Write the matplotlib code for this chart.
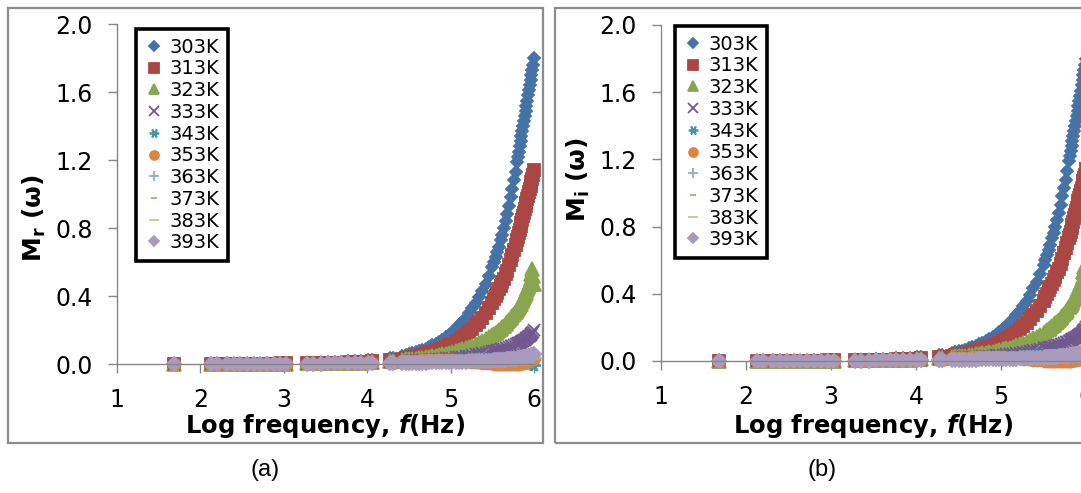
import matplotlib
matplotlib.use('Agg')
import matplotlib.pyplot as plt
from matplotlib.patches import Rectangle

plt.rcParams['font.family'] = 'DejaVu Sans'
plt.rcParams['mathtext.fontset'] = 'dejavusans'

# log frequency of every measured point (shared by all temperatures)
log_f = [1.68,
         2.13, 2.20,
         2.32, 2.40, 2.48, 2.56, 2.64, 2.72, 2.80, 2.88, 2.96, 3.03,
         3.28, 3.35,
         3.45, 3.53, 3.61, 3.69, 3.77, 3.85, 3.93, 4.01, 4.06,
         4.27, 4.31,
         4.42, 4.46, 4.50, 4.54, 4.58, 4.62, 4.66, 4.70, 4.74, 4.78,
         4.82, 4.86, 4.90, 4.94, 4.98, 5.02, 5.06, 5.10, 5.14, 5.18,
         5.22, 5.26, 5.30, 5.34, 5.38, 5.42, 5.46,
         5.50, 5.52, 5.54, 5.56, 5.58, 5.60, 5.62, 5.64, 5.66, 5.68,
         5.70, 5.72, 5.74, 5.76, 5.78,
         5.80, 5.81, 5.82, 5.83, 5.84, 5.85, 5.86, 5.87, 5.88, 5.89,
         5.90, 5.91, 5.92, 5.93, 5.94, 5.95, 5.96, 5.97, 5.98, 5.99, 6.00]

temps = ['303K', '313K', '323K', '333K', '343K', '353K', '363K', '373K', '383K', '393K']

m_303 = [0.000, 0.001, 0.001, 0.001, 0.001, 0.002, 0.002, 0.002, 0.002, 0.003, 0.003, 0.003, 0.004,
         0.006, 0.007, 0.008, 0.010, 0.011, 0.013, 0.015, 0.017, 0.019, 0.022, 0.024, 0.034, 0.037,
         0.047, 0.052, 0.057, 0.062, 0.068, 0.075, 0.082, 0.090, 0.099, 0.109,
         0.119, 0.130, 0.143, 0.157, 0.172, 0.188, 0.207, 0.227, 0.248, 0.272,
         0.299, 0.328, 0.359, 0.394, 0.432, 0.473, 0.519,
         0.57, 0.60, 0.63, 0.66, 0.69, 0.73, 0.76, 0.80, 0.84, 0.88,
         0.93, 0.98, 1.03, 1.08, 1.13,
         1.19, 1.22, 1.25, 1.28, 1.31, 1.34, 1.37, 1.40, 1.43, 1.46,
         1.49, 1.52, 1.55, 1.58, 1.61, 1.64, 1.67, 1.70, 1.73, 1.76, 1.80]
m_313 = [0.000, 0.000, 0.001, 0.001, 0.001, 0.001, 0.001, 0.002, 0.002, 0.002, 0.002, 0.003, 0.003,
         0.004, 0.005, 0.005, 0.006, 0.007, 0.008, 0.009, 0.011, 0.012, 0.014, 0.015, 0.021, 0.023,
         0.030, 0.033, 0.036, 0.040, 0.043, 0.048, 0.052, 0.057, 0.063, 0.069,
         0.075, 0.083, 0.091, 0.099, 0.109, 0.119, 0.131, 0.144, 0.157, 0.173,
         0.189, 0.207, 0.227, 0.249, 0.273, 0.300, 0.329,
         0.36, 0.38, 0.40, 0.42, 0.44, 0.46, 0.48, 0.50, 0.53, 0.55,
         0.58, 0.61, 0.64, 0.67, 0.70,
         0.73, 0.75, 0.77, 0.79, 0.81, 0.83, 0.85, 0.87, 0.89, 0.91,
         0.93, 0.95, 0.97, 0.99, 1.01, 1.03, 1.05, 1.07, 1.09, 1.11, 1.14]
m_323 = [0.000, 0.000, 0.000, 0.000, 0.001, 0.001, 0.001, 0.001, 0.001, 0.002, 0.002, 0.002, 0.002,
         0.003, 0.003, 0.004, 0.004, 0.005, 0.005, 0.006, 0.007, 0.008, 0.009, 0.010, 0.016, 0.018,
         0.025, 0.027, 0.029, 0.030, 0.032, 0.035, 0.037, 0.040, 0.043, 0.046,
         0.049, 0.052, 0.056, 0.060, 0.065, 0.070, 0.075, 0.080, 0.086, 0.093,
         0.100, 0.107, 0.115, 0.124, 0.134, 0.145, 0.157,
         0.168, 0.175, 0.182, 0.190, 0.198, 0.206, 0.215, 0.225, 0.235, 0.246,
         0.257, 0.268, 0.280, 0.293, 0.306,
         0.320, 0.328, 0.336, 0.345, 0.354, 0.363, 0.373, 0.383, 0.394, 0.405,
         0.416, 0.428, 0.440, 0.453, 0.466, 0.480, 0.500, 0.530, 0.560, 0.520, 0.470]
m_333 = [0.000, 0.000, 0.000, 0.000, 0.000, 0.001, 0.001, 0.001, 0.001, 0.001, 0.001, 0.001, 0.002,
         0.002, 0.002, 0.003, 0.003, 0.004, 0.004, 0.005, 0.005, 0.006, 0.007, 0.008, 0.012, 0.013,
         0.018, 0.019, 0.020, 0.021, 0.022, 0.023, 0.024, 0.025, 0.026, 0.027,
         0.029, 0.030, 0.032, 0.034, 0.035, 0.037, 0.039, 0.042, 0.044, 0.047,
         0.050, 0.053, 0.056, 0.059, 0.063, 0.067, 0.071,
         0.075, 0.077, 0.079, 0.081, 0.083, 0.086, 0.088, 0.091, 0.094, 0.097,
         0.100, 0.103, 0.107, 0.111, 0.115,
         0.119, 0.121, 0.124, 0.126, 0.129, 0.132, 0.135, 0.138, 0.141, 0.144,
         0.147, 0.151, 0.155, 0.159, 0.163, 0.167, 0.172, 0.177, 0.183, 0.190, 0.200]
m_343 = [0.000, 0.000, 0.000, 0.000, 0.000, 0.000, 0.000, 0.000, 0.001, 0.001, 0.001, 0.001, 0.001,
         0.001, 0.002, 0.002, 0.003, 0.003, 0.004, 0.004, 0.005, 0.005, 0.006, 0.006, 0.009, 0.010,
         0.014, 0.015, 0.016, 0.017, 0.017, 0.018, 0.019, 0.020, 0.021, 0.022,
         0.022, 0.023, 0.024, 0.025, 0.026, 0.027, 0.028, 0.029, 0.030, 0.031,
         0.031, 0.032, 0.033, 0.034, 0.034, 0.035, 0.036,
         0.036, 0.037, 0.037, 0.038, 0.038, 0.039, 0.039, 0.040, 0.040, 0.041,
         0.041, 0.042, 0.042, 0.042, 0.043,
         0.043, 0.042, 0.041, 0.040, 0.038, 0.036, 0.034, 0.032, 0.030, 0.027,
         0.024, 0.021, 0.018, 0.015, 0.012, 0.009, 0.006, 0.003, 0.000, -0.003, -0.006]
m_353 = [0.000, 0.000, 0.000, 0.000, 0.000, 0.000, 0.001, 0.001, 0.001, 0.001, 0.001, 0.001, 0.002,
         0.002, 0.002, 0.002, 0.003, 0.003, 0.003, 0.003, 0.004, 0.004, 0.004, 0.004, 0.006, 0.007,
         0.018, 0.019, 0.019, 0.020, 0.020, 0.020, 0.021, 0.021, 0.021, 0.022,
         0.022, 0.022, 0.022, 0.022, 0.021, 0.021, 0.020, 0.019, 0.018, 0.017,
         0.015, 0.013, 0.011, 0.009, 0.007, 0.005, 0.004,
         0.003, 0.002, 0.002, 0.001, 0.001, 0.000, 0.000, 0.000, 0.000, 0.000,
         0.000, 0.000, 0.000, 0.000, 0.000,
         0.001, 0.001, 0.002, 0.003, 0.004, 0.005, 0.006, 0.007, 0.008, 0.010,
         0.011, 0.013, 0.015, 0.017, 0.019, 0.021, 0.024, 0.026, 0.029, 0.032, 0.035]
m_363 = [0.000, 0.000, 0.000, 0.000, 0.000, 0.000, 0.001, 0.001, 0.001, 0.001, 0.001, 0.001, 0.002,
         0.002, 0.002, 0.002, 0.003, 0.003, 0.003, 0.003, 0.004, 0.004, 0.004, 0.004, 0.006, 0.007,
         0.010, 0.010, 0.011, 0.011, 0.011, 0.012, 0.012, 0.012, 0.013, 0.013,
         0.013, 0.014, 0.014, 0.014, 0.015, 0.015, 0.015, 0.016, 0.016, 0.016,
         0.017, 0.017, 0.017, 0.018, 0.018, 0.018, 0.019,
         0.019, 0.019, 0.020, 0.020, 0.020, 0.020, 0.021, 0.021, 0.021, 0.021,
         0.022, 0.022, 0.022, 0.022, 0.023,
         0.023, 0.023, 0.023, 0.024, 0.024, 0.024, 0.024, 0.025, 0.025, 0.025,
         0.025, 0.026, 0.026, 0.026, 0.026, 0.027, 0.027, 0.027, 0.027, 0.028, 0.028]
m_373 = [0.000, 0.000, 0.000, 0.000, 0.000, 0.000, 0.001, 0.001, 0.001, 0.001, 0.001, 0.001, 0.002,
         0.002, 0.002, 0.002, 0.003, 0.003, 0.003, 0.003, 0.004, 0.004, 0.004, 0.004, 0.005, 0.006,
         0.008, 0.008, 0.008, 0.009, 0.009, 0.009, 0.010, 0.010, 0.010, 0.011,
         0.011, 0.011, 0.012, 0.012, 0.012, 0.013, 0.013, 0.013, 0.014, 0.014,
         0.014, 0.015, 0.015, 0.015, 0.016, 0.016, 0.016,
         0.017, 0.017, 0.017, 0.018, 0.018, 0.018, 0.019, 0.019, 0.019, 0.020,
         0.020, 0.020, 0.021, 0.021, 0.021,
         0.022, 0.022, 0.022, 0.023, 0.023, 0.023, 0.024, 0.024, 0.024, 0.025,
         0.025, 0.026, 0.026, 0.026, 0.027, 0.027, 0.028, 0.028, 0.029, 0.029, 0.030]
m_383 = [0.000, 0.000, 0.000, 0.000, 0.000, 0.000, 0.001, 0.001, 0.001, 0.001, 0.001, 0.001, 0.002,
         0.002, 0.002, 0.002, 0.003, 0.003, 0.003, 0.003, 0.004, 0.004, 0.004, 0.004, 0.005, 0.006,
         0.006, 0.006, 0.007, 0.007, 0.007, 0.008, 0.008, 0.008, 0.009, 0.009,
         0.009, 0.010, 0.010, 0.010, 0.011, 0.011, 0.012, 0.012, 0.012, 0.013,
         0.013, 0.014, 0.014, 0.015, 0.015, 0.016, 0.016,
         0.017, 0.017, 0.018, 0.018, 0.019, 0.019, 0.020, 0.020, 0.021, 0.022,
         0.022, 0.023, 0.024, 0.025, 0.026,
         0.027, 0.027, 0.028, 0.029, 0.029, 0.030, 0.031, 0.031, 0.032, 0.033,
         0.034, 0.034, 0.035, 0.036, 0.037, 0.038, 0.039, 0.040, 0.041, 0.042, 0.043]
m_393 = [0.000, 0.000, 0.000, 0.000, 0.000, 0.000, 0.001, 0.001, 0.001, 0.001, 0.001, 0.001, 0.002,
         0.002, 0.002, 0.002, 0.003, 0.003, 0.003, 0.003, 0.004, 0.004, 0.004, 0.004, 0.005, 0.006,
         0.006, 0.006, 0.007, 0.007, 0.007, 0.008, 0.008, 0.008, 0.009, 0.009,
         0.010, 0.010, 0.011, 0.011, 0.012, 0.012, 0.013, 0.013, 0.014, 0.014,
         0.015, 0.015, 0.016, 0.017, 0.017, 0.018, 0.019,
         0.020, 0.021, 0.021, 0.022, 0.023, 0.024, 0.024, 0.025, 0.026, 0.027,
         0.028, 0.029, 0.029, 0.030, 0.031,
         0.032, 0.033, 0.034, 0.035, 0.036, 0.037, 0.038, 0.039, 0.040, 0.041,
         0.042, 0.043, 0.044, 0.046, 0.047, 0.048, 0.050, 0.051, 0.053, 0.054, 0.056]

# both panels show the same curves in the reference
series = [m_303, m_313, m_323, m_333, m_343, m_353, m_363, m_373, m_383, m_393]

colors = ['#4572A7', '#AA4643', '#89A54E', '#71588F', '#4198AF',
          '#DB843D', '#93A9CF', '#D19392', '#B9CD96', '#A99BBD']
markers = ['D', 's', '^', 'x', (6, 2, 90), 'o', '+', '_', '_', 'D']
sizes = [6.5, 9, 9.5, 9, 9, 8.5, 9, 6, 10, 7]

W, H = 1081, 493
GRAY = '#868686'

fig = plt.figure(figsize=(W / 100, H / 100), dpi=100)


def px_rect(x0, y0, x1, y1):
    # pixel box (top-left origin) -> figure fraction [left, bottom, width, height]
    return [x0 / W, 1 - y1 / H, (x1 - x0) / W, (y1 - y0) / H]


def draw_panel(box, ax_px, leg_px, ylab, ylab_xy, caption, caption_x):
    fig.patches.append(Rectangle((box[0] / W, 1 - box[3] / H), (box[2] - box[0]) / W,
                                 (box[3] - box[1]) / H, transform=fig.transFigure,
                                 fill=False, ec='#8C8C8C', lw=1.6))
    ax = fig.add_axes(px_rect(*ax_px))
    for vals, t, c, mk, sz in zip(series, temps, colors, markers, sizes):
        ax.plot(log_f, vals, linestyle='none', marker=mk, ms=sz, color=c,
                mec=c, mew=1.3, label=t, clip_on=False)
    ax.set_xlim(1, 6)
    ax.set_ylim(0, 2.0)
    ax.set_xticks([1, 2, 3, 4, 5, 6])
    ax.set_yticks([0.0, 0.4, 0.8, 1.2, 1.6, 2.0])
    ax.set_yticklabels(['%.1f' % v for v in [0.0, 0.4, 0.8, 1.2, 1.6, 2.0]])
    for s in ['top', 'right']:
        ax.spines[s].set_visible(False)
    for s in ['left', 'bottom']:
        ax.spines[s].set_color(GRAY)
        ax.spines[s].set_linewidth(1.0)
    ax.tick_params(direction='out', length=6.5, width=1, color=GRAY, pad=11,
                   labelsize=17)

    leg = ax.legend(loc='upper left', bbox_to_anchor=(leg_px[0] / W, 1 - leg_px[1] / H),
                    bbox_transform=fig.transFigure, borderaxespad=0, fancybox=False,
                    edgecolor='black', fontsize=14, handlelength=1.0, handletextpad=0.25,
                    labelspacing=0.14, borderpad=0.45, markerscale=0.75, framealpha=1)
    leg.get_frame().set_linewidth(2.6)

    fig.text(ylab_xy[0] / W, 1 - ylab_xy[1] / H, ylab, rotation=90, fontsize=18,
             fontweight='bold', ha='center', va='center')
    cx = (ax_px[0] + ax_px[2]) / 2
    fig.text(cx / W, 1 - 433 / H, 'Log frequency, $\\mathbfit{f}$(Hz)', fontsize=17.5,
             fontweight='bold', ha='center', va='baseline')
    fig.text(caption_x / W, 1 - 470 / H, caption, fontsize=17, family='Liberation Sans',
             ha='center', va='center')


draw_panel((8, 8, 543, 443), (117, 24, 534, 364), (136, 29),
           'M$_\\mathbf{r}$ (ω)', (34, 218), '(a)', 265)
draw_panel((555, 8, 1110, 443), (661, 25, 1086, 361), (675, 26),
           'M$_\\mathbf{i}$ (ω)', (578, 180), '(b)', 822)

fig.savefig('out.png', dpi=100)
